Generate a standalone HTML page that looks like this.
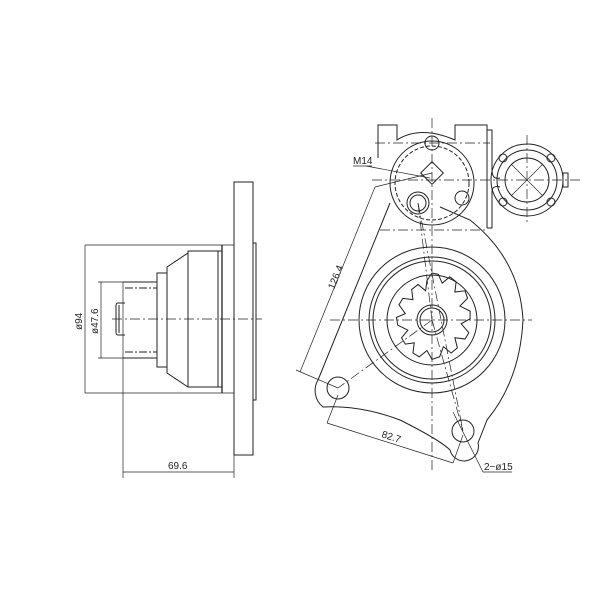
<!DOCTYPE html>
<html><head><style>body{margin:0;background:#fff}svg{display:block}</style></head><body>
<svg width="600" height="600" viewBox="0 0 600 600" xmlns="http://www.w3.org/2000/svg" font-family="Liberation Sans, sans-serif">
<rect width="600" height="600" fill="#fff"/>
<g fill="none" stroke="#222" stroke-width="1">
<!-- LEFT VIEW -->
<rect x="234" y="182" width="19" height="273"/>
<rect x="253" y="243" width="3" height="157"/>
<line x1="85" y1="245" x2="234" y2="245" stroke-width="0.7"/>
<line x1="85" y1="393" x2="234" y2="393" stroke-width="0.7"/>
<line x1="222" y1="245" x2="222" y2="393" stroke-width="1.3"/>
<rect x="188" y="251" width="34" height="136"/>
<line x1="218" y1="251" x2="218" y2="387"/>
<polyline points="188,253 167,267 167,373 188,387"/>
<rect x="157" y="273" width="10" height="94"/>
<line x1="123" y1="282" x2="157" y2="282"/>
<line x1="123" y1="358" x2="157" y2="358"/>
<line x1="123" y1="282" x2="123" y2="478" stroke-width="0.7"/>
<line x1="125" y1="288" x2="157" y2="288" stroke-dasharray="8,2,2,2"/>
<line x1="125" y1="352" x2="157" y2="352" stroke-dasharray="8,2,2,2"/>
<path d="M125,303 L118,303 Q116,303 116,306 L116,332 Q116,335 118,335 L125,335"/>
<line x1="119" y1="305" x2="119" y2="333"/>
<line x1="112" y1="319" x2="262" y2="319" stroke-dasharray="10,3,2,3" stroke-width="0.7"/>
<!-- dims -->
<line x1="85" y1="245" x2="85" y2="393" stroke-width="0.7"/>
<line x1="101" y1="282" x2="101" y2="358" stroke-width="0.7"/>
<line x1="98" y1="282" x2="123" y2="282" stroke-width="0.7"/>
<line x1="98" y1="358" x2="123" y2="358" stroke-width="0.7"/>
<line x1="123" y1="472" x2="234" y2="472" stroke-width="0.7"/>
<line x1="234" y1="455" x2="234" y2="478" stroke-width="0.7"/>

<!-- RIGHT VIEW -->
<path d="M390,203 L318,380 A21,21 0 0 0 323,407 Q360,405 400,420 Q440,440 450,450 A14,14 0 0 0 478,443 L487,420 Q520,380 523,320 Q520,260 470,220 L440,207"/>
<circle cx="338" cy="388" r="11"/>
<circle cx="463" cy="431" r="11"/>
<circle cx="432" cy="320" r="73"/>
<circle cx="432" cy="320" r="63"/>
<circle cx="432" cy="320" r="59"/>
<circle cx="432" cy="320" r="45"/>
<circle cx="432" cy="320" r="15"/>
<circle cx="432" cy="320" r="12"/>
<path transform="translate(432,320) scale(1.27) translate(-432,-319)" stroke-width="0.8" d="M432,282 L437,283 L440,290 L446,285 L451,289 L450,297 L458,296 L460,302 L454,308 L462,312 L462,318 L455,322 L461,329 L458,334 L450,333 L452,341 L447,345 L441,340 L438,348 L432,350 L428,343 L422,348 L417,345 L418,337 L411,338 L408,333 L413,327 L405,323 L404,317 L411,314 L406,307 L409,302 L417,303 L416,295 L421,291 L427,296 L428,288 Z"/>
<!-- solenoid top -->
<path d="M378,158 L378,125 L397,125 L397,140 Q420,125 455,140 L455,125 L487,125 L487,228"/>
<circle cx="432" cy="183" r="42"/>
<circle cx="432" cy="183" r="37" stroke-dasharray="4,2"/>
<circle cx="432" cy="143" r="7"/>
<rect x="424" y="165" width="16" height="16" transform="rotate(45 432 173)"/>
<circle cx="418" cy="203" r="11"/>
<circle cx="418" cy="203" r="8"/>
<circle cx="462" cy="198" r="7"/>
<path d="M487,130 L492,130 L492,170 Q492,180 500,178"/>
<path d="M487,228 L492,228 L492,192 Q492,185 500,187"/>
<!-- right terminal -->
<circle cx="527" cy="180" r="36"/>
<circle cx="527" cy="180" r="30"/>
<circle cx="527" cy="180" r="22"/>
<circle cx="503" cy="158" r="4"/><circle cx="551" cy="158" r="4"/>
<circle cx="503" cy="202" r="4"/><circle cx="551" cy="202" r="4"/>
<rect x="563" y="173" width="5" height="14"/>
<line x1="511" y1="164" x2="543" y2="196" stroke-width="0.6"/>
<line x1="543" y1="164" x2="511" y2="196" stroke-width="0.6"/>
<g stroke-dasharray="10,3,2,3" stroke-width="0.7">
<line x1="432" y1="118" x2="432" y2="470"/>
<line x1="330" y1="320" x2="532" y2="320"/>
<line x1="372" y1="180" x2="580" y2="180"/>
<line x1="527" y1="135" x2="527" y2="225"/>
<line x1="375" y1="143" x2="490" y2="143"/>
<line x1="380" y1="230" x2="485" y2="230"/>
<line x1="432" y1="320" x2="338" y2="388"/>
<line x1="418" y1="203" x2="432" y2="320"/>
<line x1="432" y1="320" x2="463" y2="431"/>
<line x1="418" y1="203" x2="463" y2="431"/>
</g>
<line x1="300" y1="372" x2="375" y2="187" stroke-width="0.7"/>
<line x1="296" y1="370" x2="338" y2="388" stroke-width="0.7"/>
<line x1="375" y1="187" x2="432" y2="173" stroke-width="0.7"/>
<line x1="327" y1="423" x2="453" y2="463" stroke-width="0.7"/>
<line x1="327" y1="423" x2="338" y2="395" stroke-width="0.7"/>
<line x1="453" y1="463" x2="463" y2="435" stroke-width="0.7"/>
<line x1="453" y1="412" x2="483" y2="472" stroke-width="0.7"/>
<line x1="483" y1="472" x2="512" y2="472" stroke-width="0.7"/>
<line x1="353" y1="166" x2="372" y2="166" stroke-width="0.7"/>
<line x1="366" y1="166" x2="430" y2="178" stroke-width="0.7"/>
</g>
<g fill="#222" font-size="10">
<text x="0" y="0" transform="translate(82,330) rotate(-90)">ø94</text>
<text x="0" y="0" transform="translate(98,334) rotate(-90)">ø47.6</text>
<text x="168" y="469">69.6</text>
<text x="0" y="0" transform="translate(334,290) rotate(-68)">126.4</text>
<text x="0" y="0" transform="translate(381,437) rotate(18)">82.7</text>
<text x="484" y="470">2−ø15</text>
<text x="353" y="164">M14</text>
</g>
</svg>
</body></html>
